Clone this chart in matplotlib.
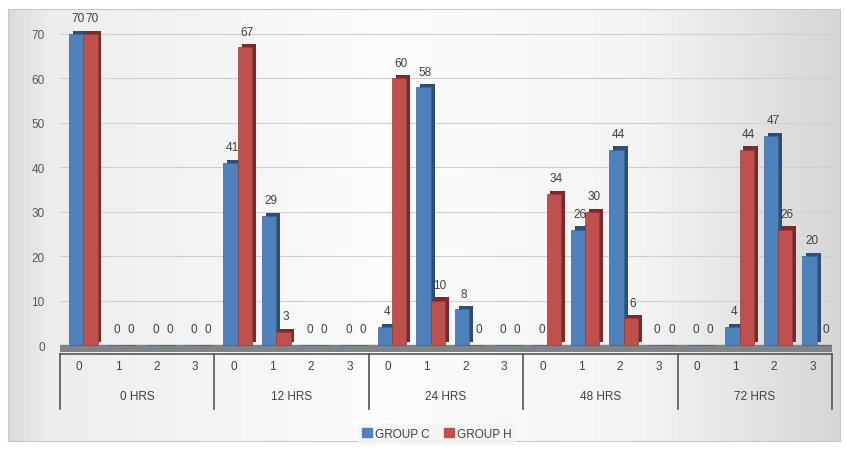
import matplotlib
matplotlib.use("Agg")
import matplotlib.pyplot as plt
import matplotlib.transforms as mtransforms
from matplotlib.patches import Rectangle
import numpy as np

plt.rcParams['font.family'] = ['Liberation Sans', 'DejaVu Sans']

# data
groups = ["0 HRS", "12 HRS", "24 HRS", "48 HRS", "72 HRS"]
subcats = ["0", "1", "2", "3"]
group_c = [70, 0, 0, 0,
           41, 29, 0, 0,
           4, 58, 8, 0,
           0, 26, 44, 0,
           0, 4, 47, 20]
group_h = [70, 0, 0, 0,
           67, 3, 0, 0,
           60, 10, 0, 0,
           34, 30, 6, 0,
           0, 44, 26, 0]

blue, blue_dark = "#4f81bd", "#2c4f78"
red, red_dark = "#c0504d", "#7a2a28"
txt = "#404040"

W, H = 846, 452
fig = plt.figure(figsize=(W / 100, H / 100), dpi=100)
fig.patch.set_facecolor("white")

# background panel with soft horizontal gradient
bg = fig.add_axes([8 / W, 10 / H, 832 / W, 432 / H])
grad = np.interp(np.linspace(0, 1, 256), [0, 0.05, 0.45, 0.75, 1.0],
                 [0.86, 0.93, 0.99, 0.96, 0.84])
img = np.dstack([grad, grad, grad]).repeat(2, axis=0)
bg.imshow(img, aspect="auto", extent=[0, 1, 0, 1])
bg.set_xlim(0, 1)
bg.set_ylim(0, 1)
bg.set_xticks([])
bg.set_yticks([])
for s in bg.spines.values():
    s.set_color("#c8c8c8")

ax_bottom, ax_top = 352.7, 26.1
ax = fig.add_axes([60 / W, (H - ax_bottom) / H, 772 / W, (ax_bottom - ax_top) / H])
ax.patch.set_alpha(0)

x = np.arange(len(group_c))
bw = 0.37
xc = x - 0.08
xh = x + 0.29
depth_x, depth_y = 0.1, 0.7

# floor slab
ax.axhspan(-1.3, 0, color="#7f8489", zorder=1)

# depth faces behind the bars
ax.bar(xc + depth_x, group_c, bw, bottom=depth_y, color=blue_dark, zorder=2)
ax.bar(xh + depth_x, group_h, bw, bottom=depth_y, color=red_dark, zorder=2)
ax.bar(xc, group_c, bw, color=blue, edgecolor="#3a6494", linewidth=0.5, zorder=3)
ax.bar(xh, group_h, bw, color=red, edgecolor="#943c3a", linewidth=0.5, zorder=3)

for xi, v in zip(xc, group_c):
    ax.text(xi + 0.05, v + 2.2, str(v), ha="center", va="bottom", fontsize=8.5,
            color=txt, zorder=5)
for xi, v in zip(xh, group_h):
    ax.text(xi + 0.05, v + 2.2, str(v), ha="center", va="bottom", fontsize=8.5,
            color=txt, zorder=5)

ax.set_xlim(-0.5, len(group_c) - 0.5)
ax.set_ylim(-1.5, 72)
ax.set_yticks(range(0, 71, 10))
ax.yaxis.grid(True, color="#d0d0d0", linewidth=0.8)
ax.set_axisbelow(True)
ax.tick_params(axis="y", length=0, labelsize=8.5, labelcolor="#595959", pad=11)
ax.set_xticks([])
for s in ax.spines.values():
    s.set_visible(False)

# two-level category axis
tr = mtransforms.blended_transform_factory(ax.transData, fig.transFigure)
y_line = (H - 355) / H
y_end = (H - 410) / H
ax.plot([-0.5, len(group_c) - 0.5], [y_line, y_line], transform=tr,
        color="#555555", lw=1.2, clip_on=False)
for k in range(len(groups) + 1):
    xb = k * len(subcats) - 0.5
    ax.plot([xb, xb], [y_line, y_end], transform=tr, color="#555555",
            lw=1.2, clip_on=False)
for i in x:
    ax.text(i, (H - 367) / H, subcats[i % len(subcats)], transform=tr,
            ha="center", va="center", fontsize=8.5, color=txt)
for k, g in enumerate(groups):
    ax.text(k * len(subcats) + 1.5, (H - 397) / H, g, transform=tr,
            ha="center", va="center", fontsize=8.5, color=txt)

# legend
handles = [Rectangle((0, 0), 1, 1, color=blue), Rectangle((0, 0), 1, 1, color=red)]
fig.legend(handles, ["GROUP C", "GROUP H"], loc="center", ncol=2,
           bbox_to_anchor=(437 / W, (H - 435) / H), fontsize=8.5,
           frameon=True, facecolor="#f4f4f4", edgecolor="none",
           handlelength=0.8, handleheight=0.8, handletextpad=0.3,
           columnspacing=1.2, labelcolor=txt, borderpad=0.4)

fig.savefig("out.png", dpi=100)
